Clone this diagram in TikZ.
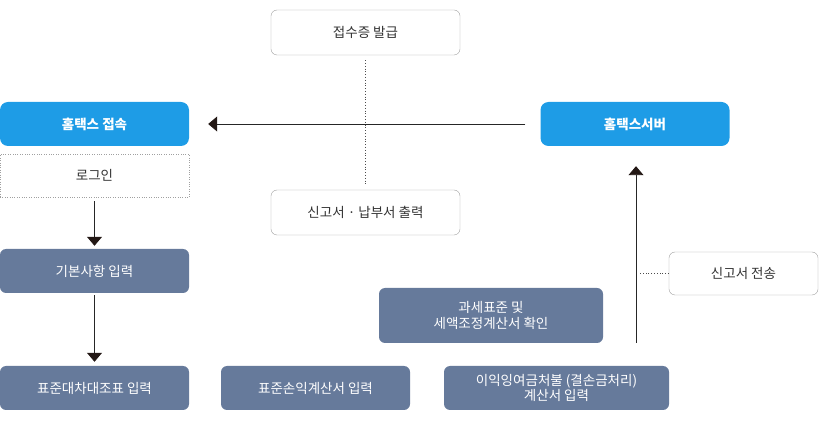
\documentclass[tikz,border=0pt]{standalone}
\usepackage{fontspec}
\setmainfont{Noto Sans CJK KR}
\usepackage{tikz}
\usetikzlibrary{arrows.meta,positioning}
\definecolor{hometaxblue}{RGB}{30,156,230}
\definecolor{slateblue}{RGB}{102,122,155}
\definecolor{boxgray}{RGB}{160,160,160}
\definecolor{inkdark}{RGB}{35,24,21}

\begin{document}
\begin{tikzpicture}[
        x=1pt, y=-1pt,
        stepbase/.style={
            rectangle, inner sep=0pt, align=center,
            font=\fontsize{13.5}{17}\selectfont
        },
        bluebox/.style={
            stepbase, fill=hometaxblue, text=white, font=\fontsize{13.5}{17}\selectfont\bfseries,
            rounded corners=8pt, minimum width=189pt, minimum height=44pt
        },
        slatebox/.style={
            stepbase, fill=slateblue, text=white, rounded corners=6pt,
            minimum width=189pt, minimum height=44pt
        },
        outbox/.style={
            stepbase, draw=boxgray, fill=white, text=black!80, rounded corners=6pt,
            minimum width=189pt, minimum height=45pt
        },
        flow/.style={
            draw=black!85, line width=0.9pt,
            -{Triangle[length=9pt,width=15pt,color=inkdark]}
        },
        guide/.style={
            draw=black!70, line width=0.8pt, dotted
        }
    ]
    \useasboundingbox (0,0) rectangle (820,430);

    % top row
    \node[outbox] (receipt) at (365.5, 32.5) {접수증 발급};
    \node[bluebox] (access) at (94.5, 124) {홈택스 접속};
    \node[bluebox] (server) at (635, 124) {홈택스서버};

    % login step
    \node[stepbase, draw=boxgray, dotted, text=black!80,
          minimum width=189pt, minimum height=43pt] (login) at (94.5, 175.5) {로그인};

    % middle
    \node[outbox] (print) at (365.5, 212.5) {신고서 · 납부서 출력};
    \node[slatebox] (basic) at (94.5, 271) {기본사항 입력};
    \node[outbox, minimum width=149pt, minimum height=43pt] (send) at (743.5, 273.5) {신고서 전송};
    \node[slatebox, minimum width=224pt, minimum height=55pt] (check) at (491, 315.5)
        {과세표준 및\\[-1pt]세액조정계산서 확인};

    % bottom row
    \node[slatebox] (balance) at (94.5, 388) {표준대차대조표 입력};
    \node[slatebox] (income) at (315.5, 388) {표준손익계산서 입력};
    \node[slatebox, minimum width=225pt] (surplus) at (556.5, 388)
        {이익잉여금처불 (결손금처리)\\[-2pt]계산서 입력};

    % connectors
    \coordinate (sendfoot) at (636, 343);
    \coordinate (sendtap) at (640, 273.5);
    \draw[flow, shorten <=15pt, shorten >=19pt] (server.west) -- (access.east);
    \draw[guide, shorten <=5pt, shorten >=5pt] (receipt.south) -- (print.north);
    \draw[flow, shorten <=4pt, shorten >=3pt] (login.south) -- (basic.north);
    \draw[flow, shorten <=2pt, shorten >=4pt] (basic.south) -- (balance.north);
    \draw[flow, shorten >=20pt] (sendfoot) -- (sendfoot |- server.south);
    \draw[guide] (send.west) -- (sendtap);

    \end{tikzpicture}
\end{document}
